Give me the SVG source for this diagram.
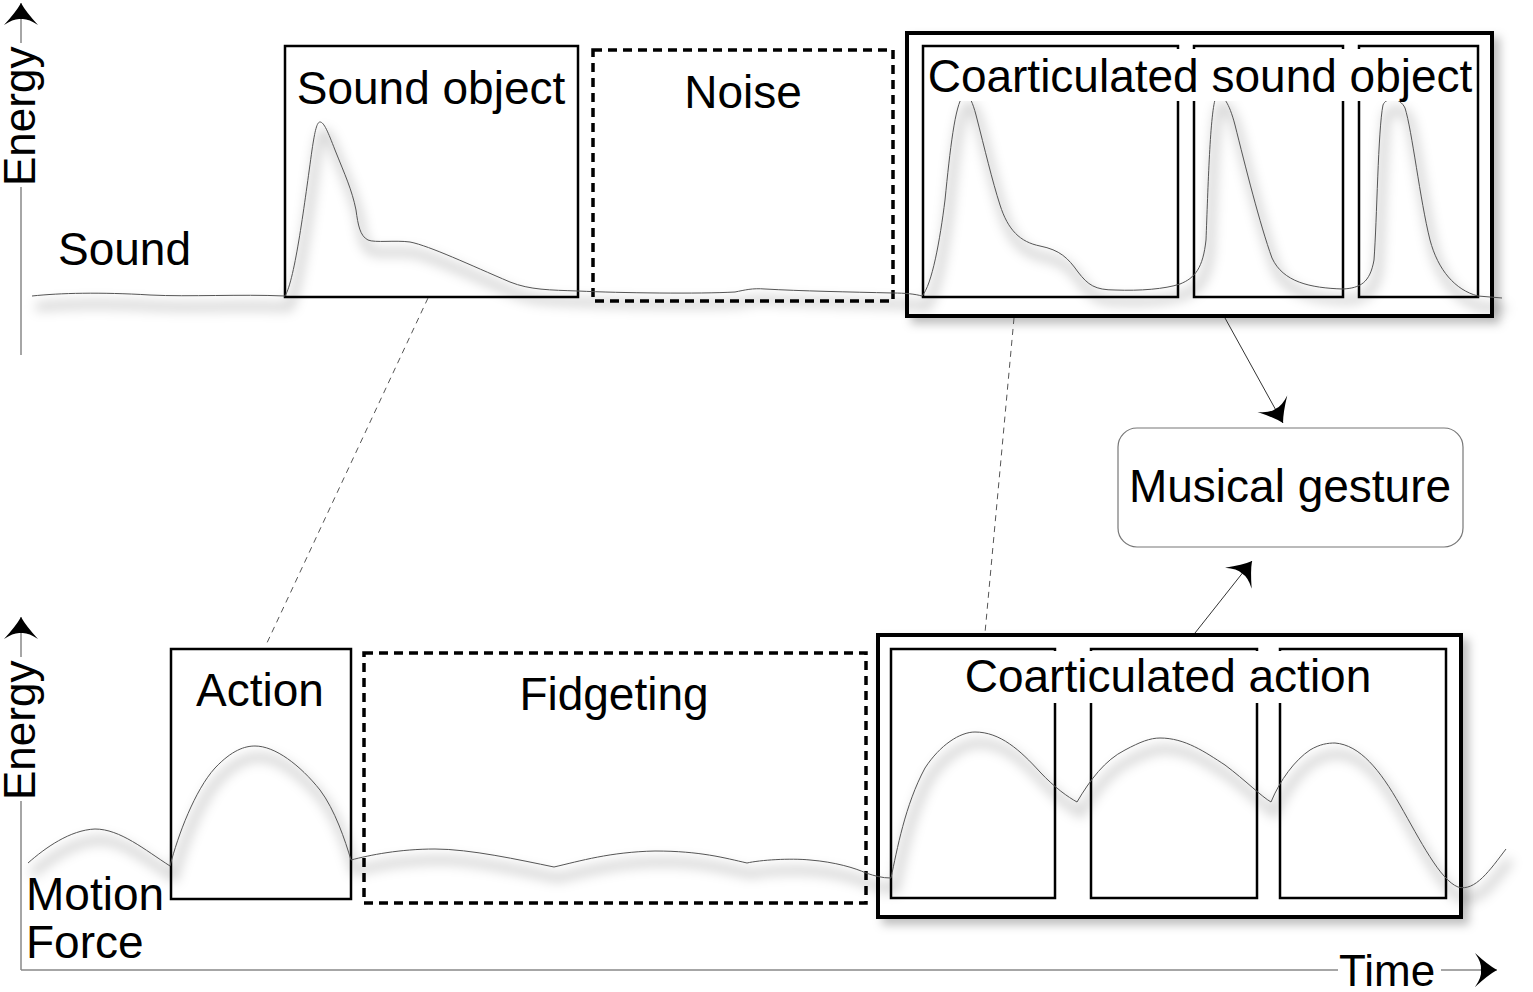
<svg xmlns="http://www.w3.org/2000/svg" width="1533" height="992" viewBox="0 0 1533 992">
<style>
.t{font-family:"Liberation Sans",Arial,sans-serif;font-size:46px;fill:#000}
.ax{stroke:#888;stroke-width:1.5;fill:none}
.box{fill:none;stroke:#000;stroke-width:2.5}
.dbox{fill:none;stroke:#000;stroke-width:3.5;stroke-dasharray:9 6}
.big{fill:#fff;stroke:#000;stroke-width:4;filter:url(#bsh)}
.curve{fill:none;stroke:#555;stroke-width:1}
.sh{fill:none;stroke:#000;stroke-opacity:.18;stroke-width:8;filter:url(#blur)}
.dash{stroke:#555;stroke-width:1;stroke-dasharray:6 5;fill:none}
.con{stroke:#333;stroke-width:1;fill:none;marker-end:url(#ah)}
.bg{fill:#fff}
</style>
<defs>
<filter id="blur" x="-10%" y="-30%" width="120%" height="160%"><feGaussianBlur stdDeviation="6"/></filter>
<filter id="bsh" x="-10%" y="-10%" width="125%" height="125%"><feDropShadow dx="6" dy="6" stdDeviation="5" flood-color="#000" flood-opacity="0.25"/></filter>
<marker id="ah" markerUnits="userSpaceOnUse" orient="auto" viewBox="-24 -19 26 38" refX="0" refY="0" markerWidth="26" markerHeight="38">
<path d="M0,0 Q-9,-5 -22,-17 Q-15,-7 -16,0 Q-15,7 -22,17 Q-9,5 0,0 Z" fill="#000"/>
</marker>
<path id="cTop" d="M32,296 C60,293 100,292 150,295 C190,297 240,294 285,296 C295,280 305,200 312,150 C315,130 317,122 320,122 C324,122 328,132 335,150 C345,175 352,190 356,210 C358,225 360,236 368,240 C375,243 395,240 410,242 C430,246 470,265 510,282 C530,290 550,290 578,291 C620,293 700,294 735,292 C745,290 752,288 765,289 C800,291 850,292 893,293 C905,293 915,294 922,296 C932,285 940,240 945,200 C950,150 955,105 963,96 C968,92 972,100 976,115 C985,150 992,180 1000,205 C1008,230 1020,242 1040,246 C1060,250 1068,258 1078,272 C1088,285 1095,290 1115,290 C1140,291 1165,289 1180,284 C1195,278 1203,268 1206,240 C1208,190 1210,110 1216,97 C1220,92 1228,98 1235,125 C1245,165 1260,225 1272,258 C1283,282 1310,288 1343,289 C1360,288 1370,283 1374,260 C1377,220 1378,130 1383,105 C1386,97 1400,97 1405,108 C1412,130 1420,200 1430,240 C1438,270 1455,290 1478,296 L1502,298"/>
<path id="cBot" d="M28,863 C45,848 70,830 95,829 C120,829 145,850 170,866 C178,835 195,790 215,768 C232,750 245,746 255,746 C275,746 300,765 320,790 C335,810 345,840 351,860 C370,855 400,849 435,849 C470,849 520,860 554,867 C580,861 610,852 655,851 C700,851 725,858 747,863 C760,860 790,858 810,860 C835,862 855,868 866,873 C875,876 882,878 891,878 C897,850 905,805 925,768 C940,745 960,732 975,732 C1000,732 1020,750 1040,772 C1055,788 1068,797 1077,802 C1090,780 1105,760 1125,750 C1140,742 1150,738 1160,738 C1185,738 1205,752 1225,765 C1245,780 1262,797 1271,802 C1280,780 1295,760 1310,750 C1320,744 1328,743 1335,743 C1360,745 1380,770 1400,805 C1420,840 1440,880 1458,887 C1475,892 1490,870 1506,849"/>
</defs>
<rect width="1533" height="992" fill="#fff"/>

<g id="axes">
<line class="ax" x1="21" y1="355" x2="21" y2="187"/>
<line class="ax" x1="21" y1="43" x2="21" y2="3" marker-end="url(#ah)"/>
<text class="t" style="font-size:44px" transform="translate(35,186) rotate(-90)">Energy</text>
<line class="ax" x1="21" y1="970" x2="21" y2="801"/>
<line class="ax" x1="21" y1="657" x2="21" y2="617" marker-end="url(#ah)"/>
<text class="t" style="font-size:44px" transform="translate(35,800) rotate(-90)">Energy</text>
<line class="ax" x1="21" y1="970" x2="1338" y2="970"/>
<line class="ax" x1="1441" y1="970" x2="1497" y2="970" marker-end="url(#ah)"/>
<text class="t" style="font-size:44px" x="1339" y="986">Time</text>
<text class="t" x="58" y="265">Sound</text>
<text class="t" x="26" y="910">Motion</text>
<text class="t" x="26" y="958">Force</text>
</g>

<g id="big-boxes">
<rect id="coart-sound" class="big" x="907" y="33" width="585" height="283"/>
<rect id="coart-action" class="big" x="878" y="635" width="583" height="282"/>
</g>

<g id="shadows">
<use href="#cTop" class="sh" transform="translate(4,11)"/>
<use href="#cBot" class="sh" transform="translate(4,11)"/>
</g>

<g id="sound-object">
<rect class="box" x="285" y="46" width="293" height="251"/>
<text class="t" x="431" y="104" text-anchor="middle">Sound object</text>
</g>
<g id="noise">
<rect class="dbox" x="593" y="50" width="300" height="251"/>
<text class="t" x="743" y="108" text-anchor="middle">Noise</text>
</g>
<g id="coart-sound-inner">
<rect class="box" x="923" y="46" width="255" height="251"/>
<rect class="box" x="1194" y="46" width="149" height="251"/>
<rect class="box" x="1359" y="46" width="119" height="251"/>
</g>
<g id="action">
<rect class="box" x="171" y="649" width="180" height="250"/>
<text class="t" x="260" y="706" text-anchor="middle">Action</text>
</g>
<g id="fidgeting">
<rect class="dbox" x="364" y="653" width="502" height="250"/>
<text class="t" x="614" y="710" text-anchor="middle">Fidgeting</text>
</g>
<g id="coart-action-inner">
<rect class="box" x="891" y="649" width="164" height="249"/>
<rect class="box" x="1091" y="649" width="166" height="249"/>
<rect class="box" x="1280" y="649" width="166" height="249"/>
</g>

<g id="curves">
<use href="#cTop" class="curve"/>
<use href="#cBot" class="curve"/>
</g>

<g id="coart-labels">
<rect class="bg" x="926" y="49" width="549" height="52"/>
<text class="t" x="1200" y="92" text-anchor="middle">Coarticulated sound object</text>
<rect class="bg" x="960" y="651" width="420" height="52"/>
<text class="t" x="1168" y="692" text-anchor="middle">Coarticulated action</text>
</g>

<g id="musical-gesture">
<rect x="1118" y="428" width="345" height="119" rx="19" fill="#fff" stroke="#777" stroke-width="1.2"/>
<text class="t" x="1290" y="502" text-anchor="middle">Musical gesture</text>
</g>

<g id="connectors">
<line class="dash" x1="428" y1="298" x2="266" y2="645"/>
<line class="dash" x1="1014" y1="318" x2="985" y2="633"/>
<line class="con" x1="1225" y1="318" x2="1283" y2="423"/>
<line class="con" x1="1195" y1="633" x2="1252" y2="561"/>
</g>
</svg>
